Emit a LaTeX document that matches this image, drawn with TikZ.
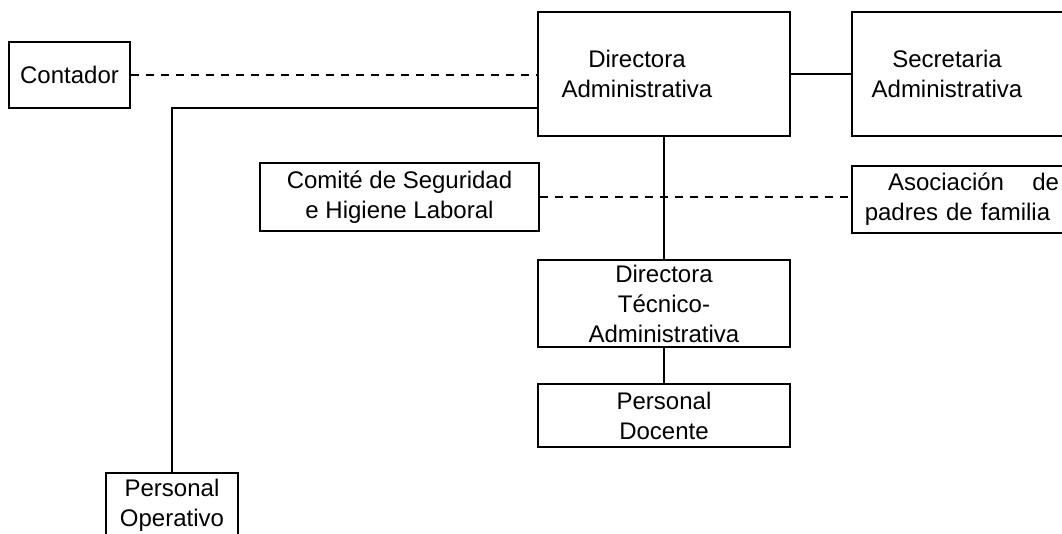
\documentclass[tikz,border=0pt]{standalone}
\usepackage{fontspec}
\setmainfont{Liberation Sans}

\begin{document}
\begin{tikzpicture}[x=0.5pt, y=-0.5pt, line width=0.9pt,
    box/.style={draw, rectangle, inner sep=0pt, align=center, font=\fontsize{12}{15}\selectfont},
    txt/.style={inner sep=0pt, align=center, font=\fontsize{12}{15}\selectfont},
    dashline/.style={dash pattern=on 4pt off 3.5pt}]
        % Fix the size of the picture and cut what runs over the edge
        \path[use as bounding box, clip] (0,0) rectangle (1062,534);

        % Draw the boxes of the top row
        \node[box, minimum width=60.5pt, minimum height=33pt] (cont) at (69.5,75) {Contador};
        \node[box, minimum width=126pt, minimum height=62pt] (dadm) at (664,74) {};
        \node[txt] (dadmtxt) at (637,74) {Directora\\Administrativa};
        \node[box, minimum width=119pt, minimum height=62pt] (sec) at (971,74) {};
        \node[txt] (sectxt) at (947,74) {Secretaria\\Administrativa};

        % Draw the boxes of the second row
        \node[box, minimum width=139.5pt, minimum height=34pt] (com) at (399.5,197) {Comit\'e de Seguridad\\e Higiene Laboral};
        \node[box, minimum width=119pt, minimum height=33.5pt] (aso) at (971,199.5) {};
        \node[txt, text width=101.5pt] (asotxt) at (957.5,199.5) {\hspace*{16pt}Asociaci\'on\hfill de\\padres de familia};

        % Draw the boxes below
        \node[box, minimum width=126pt, minimum height=43.5pt] (dtec) at (664,303.5) {Directora\\T\'ecnico-\\Administrativa};
        \node[box, minimum width=126pt, minimum height=31.5pt] (pdoc) at (664,415.5) {Personal\\Docente};
        \node[box, minimum width=66pt, minimum height=32pt] (pop) at (172,505) {Personal\\Operativo};

        % Bend of the line to the operative staff
        \coordinate (bend) at (172,108);

        % Draw the connectors
        \draw[dashline] (cont.east) -- (cont.east -| dadm.west);
        \draw (dadm.east |- sec.west) -- (sec.west);
        \draw (dadm.west |- bend) -- (bend) -- (pop);
        \draw (dadm) -- (dtec);
        \draw[dashline] (com.east) -- (com.east -| aso.west);
        \draw (dtec) -- (pdoc);
      \end{tikzpicture}
\end{document}
